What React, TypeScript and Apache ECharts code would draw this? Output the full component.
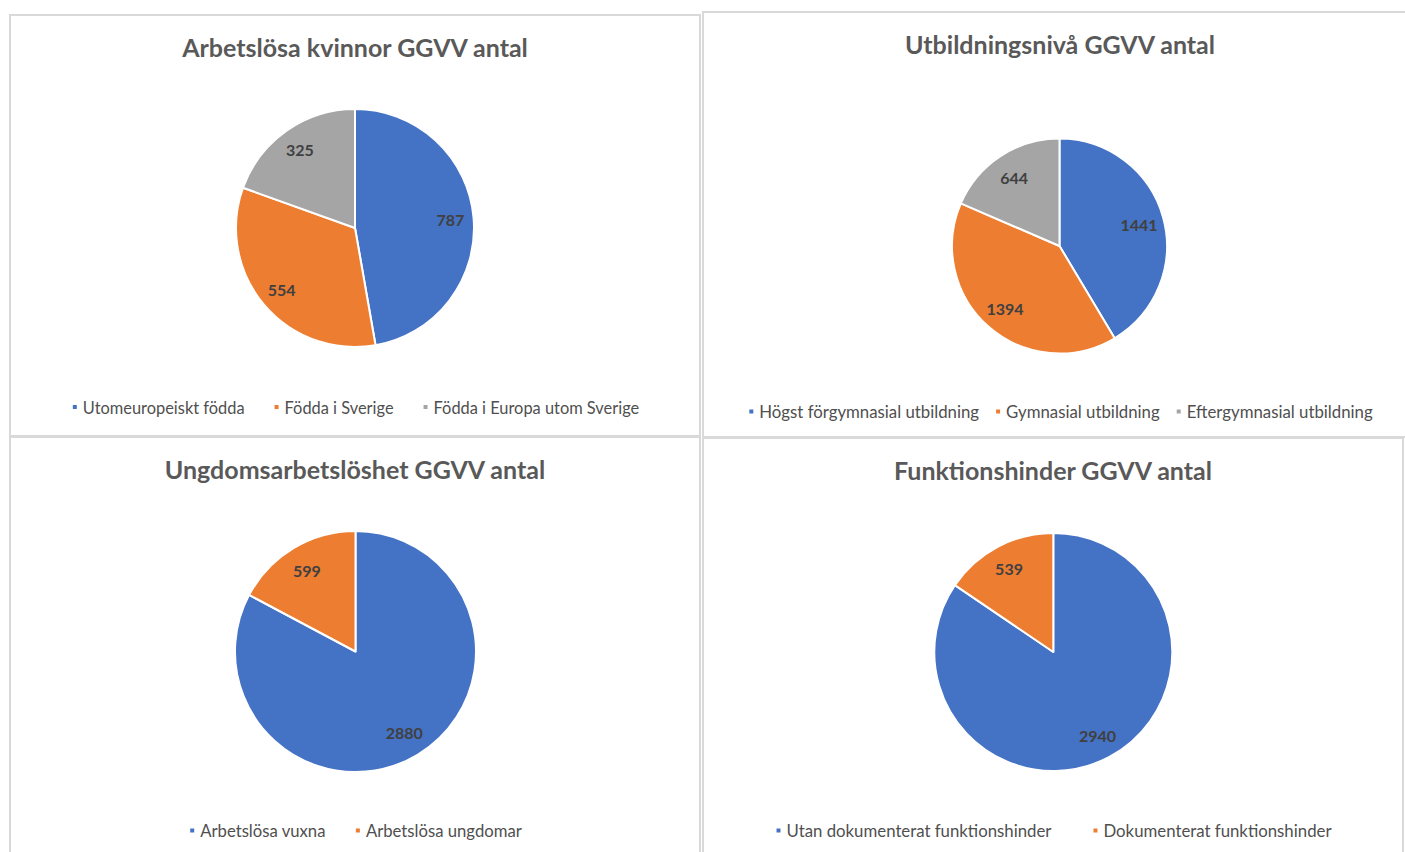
import React, { useEffect, useRef } from "react";
import * as echarts from "echarts";

const kvinnorTitle = "Arbetslösa kvinnor GGVV antal";
const kvinnorCategories = ["Utomeuropeiskt födda", "Födda i Sverige", "Födda i Europa utom Sverige"];
const kvinnorValues = [787, 554, 325];

const utbildningTitle = "Utbildningsnivå GGVV antal";
const utbildningCategories = ["Högst förgymnasial utbildning", "Gymnasial utbildning", "Eftergymnasial utbildning"];
const utbildningValues = [1441, 1394, 644];

const ungdomTitle = "Ungdomsarbetslöshet GGVV antal";
const ungdomCategories = ["Arbetslösa vuxna", "Arbetslösa ungdomar"];
const ungdomValues = [2880, 599];

const funkTitle = "Funktionshinder GGVV antal";
const funkCategories = ["Utan dokumenterat funktionshinder", "Dokumenterat funktionshinder"];
const funkValues = [2940, 539];

const COLORS = ["#4472C4", "#ED7D31", "#A5A5A5"];
const FONT = "Lato, 'Open Sans', sans-serif";

type PanelProps = {
  left: number;
  top: number;
  width: number;
  height: number;
  title: string;
  categories: string[];
  values: number[];
  center: [number, number];
  radius: number;
  labelFrac: number;
  legendGap: number;
  legendFont: number;
  titleTop: number;
  legendTop: number;
};

function Panel(p: PanelProps) {
  const ref = useRef<HTMLDivElement>(null);
  useEffect(() => {
    if (!ref.current) return;
    const chart = echarts.init(ref.current, undefined, { renderer: "svg" });
    const data = p.categories.map((name, i) => ({ name, value: p.values[i] }));
    chart.setOption({
      animation: false,
      color: COLORS,
      title: {
        text: p.title,
        left: "center",
        top: p.titleTop,
        textStyle: { fontFamily: FONT, fontSize: 25, fontWeight: "bold", color: "#595959" },
      },
      legend: {
        data: p.categories,
        left: "center",
        top: p.legendTop,
        icon: "rect",
        itemWidth: 6,
        itemHeight: 6,
        itemGap: p.legendGap,
        textStyle: { fontFamily: FONT, fontSize: p.legendFont, color: "#4f4f4f" },
      },
      series: [
        {
          type: "pie",
          center: p.center,
          radius: [0, p.radius],
          startAngle: 90,
          clockwise: true,
          label: { show: false },
          labelLine: { show: false },
          itemStyle: { borderColor: "#ffffff", borderWidth: 2 },
          emphasis: { disabled: true },
          data,
        },
        {
          type: "pie",
          center: p.center,
          radius: [0, p.radius * 2 * p.labelFrac],
          startAngle: 90,
          clockwise: true,
          silent: true,
          z: 3,
          itemStyle: { color: "rgba(0,0,0,0)", borderWidth: 0 },
          label: {
            show: true,
            position: "inside",
            formatter: "{c}",
            fontFamily: FONT,
            fontSize: 16,
            fontWeight: "bold",
            color: "#404040",
          },
          labelLine: { show: false },
          emphasis: { disabled: true },
          data,
        },
      ],
    });
    return () => chart.dispose();
  }, []);
  return (
    <div
      style={{
        position: "absolute",
        left: p.left,
        top: p.top,
        width: p.width,
        height: p.height,
        border: "2px solid #d9d9d9",
        boxSizing: "border-box",
        background: "transparent",
      }}
    >
      <div
        ref={ref}
        style={{ position: "absolute", left: -2, top: -2, width: p.width, height: p.height }}
      />
    </div>
  );
}

export default function App() {
  return (
    <div
      style={{
        position: "fixed",
        left: 0,
        top: 0,
        width: 1405,
        height: 852,
        overflow: "hidden",
        background: "#ffffff",
      }}
    >
      <Panel
        left={702}
        top={11}
        width={716}
        height={427}
        title={utbildningTitle}
        categories={utbildningCategories}
        values={utbildningValues}
        center={[357.5, 235]}
        radius={107.5}
        labelFrac={0.74}
        legendGap={15}
        legendFont={16.8}
        titleTop={15}
        legendTop={387}
      />
      <Panel
        left={9}
        top={14}
        width={692}
        height={423}
        title={kvinnorTitle}
        categories={kvinnorCategories}
        values={kvinnorValues}
        center={[346, 214]}
        radius={119}
        labelFrac={0.78}
        legendGap={28}
        legendFont={16.4}
        titleTop={15}
        legendTop={380}
      />
      <Panel
        left={702}
        top={437}
        width={702}
        height={430}
        title={funkTitle}
        categories={funkCategories}
        values={funkValues}
        center={[351.3, 215]}
        radius={119}
        labelFrac={0.77}
        legendGap={40}
        legendFont={16.8}
        titleTop={15}
        legendTop={380}
      />
      <Panel
        left={9}
        top={436}
        width={692}
        height={430}
        title={ungdomTitle}
        categories={ungdomCategories}
        values={ungdomValues}
        center={[346.5, 215.5]}
        radius={120.5}
        labelFrac={0.76}
        legendGap={28}
        legendFont={16.7}
        titleTop={15}
        legendTop={381}
      />
    </div>
  );
}
